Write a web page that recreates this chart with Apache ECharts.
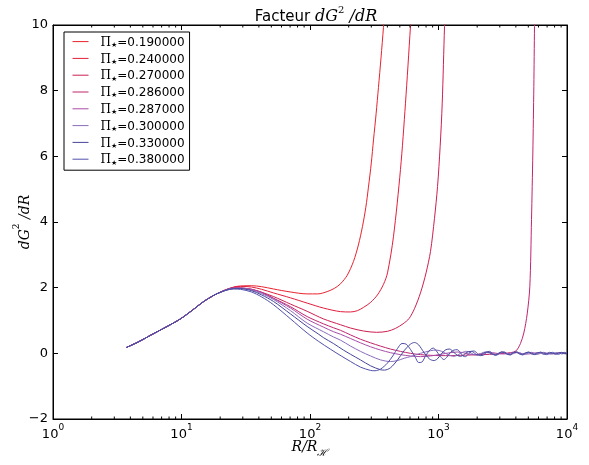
<!DOCTYPE html>
<html><head><meta charset="utf-8">
<script src="https://cdn.jsdelivr.net/npm/echarts@6/dist/echarts.min.js"></script>
<style>html,body{margin:0;padding:0;background:#fff}#c{width:589px;height:465px}</style>
</head><body><div id="c"></div>
<script>
// ---- data ----
const piNames = ['0.190000','0.240000','0.270000','0.286000','0.287000','0.300000','0.330000','0.380000'];
const lineColors = ['#e8222e','#e21e3c','#cc1f50','#c0246e','#a84ca8','#8a6cbc','#45459a','#5050aa'];
const xTickExps = [0,1,2,3,4];
const yTicks = [-2,0,2,4,6,8,10];

// common rising part (all curves overlap here)
const head = [[3.73,0.18],[4.63,0.35],[5.74,0.55],[7.74,0.82],[9.82,1.05],[12.5,1.35],[14.9,1.58],[19.0,1.82]];

const t019 = [[25.5,2.02],[28.8,2.05],[35,2.06],[42,2.03],[52,1.96],[70,1.87],[95,1.81],[115,1.81],[136,1.88],[155,1.98],[173,2.12],[195,2.38],[218,2.8],[238,3.3],[256,3.86],[272,4.45],[285,5.06],[300,5.8],[312,6.5],[327,7.3],[341,8.1],[357,9.0],[373,9.93],[401,11.6]];
const t024 = [[25.5,2.01],[28.8,2.04],[35,2.02],[42,1.95],[52,1.84],[70.5,1.69],[95,1.53],[127,1.38],[173,1.27],[207,1.26],[234,1.3],[261,1.4],[296,1.55],[335,1.78],[373,2.1],[401,2.45],[446,3.55],[506,5.6],[553,7.6],[605,9.95],[640,11.5]];
const t027 = [[25.5,2.0],[28.8,1.99],[35,1.95],[42,1.86],[52,1.73],[70.5,1.5],[95,1.28],[127,1.05],[173,0.87],[207,0.77],[261,0.68],[330,0.64],[400,0.67],[463,0.76],[530,0.9],[590,1.06],[650,1.36],[724,1.84],[800,2.45],[866,3.1],[930,4.1],[983,5.08],[1030,6.3],[1069,7.62],[1114,9.96],[1150,11.5]];
const t0286 = [[25.5,1.99],[28.8,1.99],[35,1.95],[42,1.86],[52,1.68],[70.5,1.42],[95,1.12],[127,0.9],[152,0.78],[173,0.7],[207,0.56],[247,0.43],[296,0.32],[354,0.22],[423,0.13],[506,0.06],[605,0.0],[724,-0.04],[866,-0.06],[1037,-0.07],[1240,-0.07],[1480,-0.06],[1800,-0.05],[2240,-0.04],[2780,-0.02],[3260,0.0],[3630,0.02],[3830,0.04],[4050,0.09],[4345,0.3],[4613,0.62],[4900,1.2],[5138,2.04],[5294,4.07],[5421,6.1],[5520,8.13],[5585,9.96],[5680,12.5]];
const t0287 = [[25.5,1.99],[28.8,1.99],[35,1.95],[42,1.85],[52,1.67],[70.5,1.38],[95,1.04],[127,0.8],[152,0.66],[173,0.58],[207,0.45],[247,0.32],[296,0.2],[354,0.1],[423,0.02],[506,-0.04],[605,-0.08],[724,-0.1],[866,-0.08],[1037,-0.03],[1240,0.02],[1400,0.04],[1560,0.02],[1710,-0.02],[1900,-0.04],[2120,-0.01],[2360,0.02],[2630,0.02],[2930,-0.01],[3260,-0.02],[3630,0.01],[4050,0.02],[4510,-0.01],[5020,-0.02],[5590,0.01],[6220,0.02],[6930,-0.01],[7720,-0.01],[8590,0.01],[9570,0.01],[10000,0]];
const t030 = [[25.5,1.98],[28.8,1.98],[35,1.93],[42,1.82],[52,1.64],[70.5,1.3],[95,0.92],[127,0.66],[152,0.5],[173,0.4],[207,0.22],[247,0.06],[296,-0.08],[354,-0.2],[423,-0.25],[480,-0.22],[540,-0.15],[605,-0.1],[724,0.0],[866,0.08],[960,0.1],[1060,0.06],[1160,-0.02],[1240,-0.07],[1320,-0.09],[1400,-0.06],[1480,0.0],[1560,0.04],[1620,0.06],[1710,0.05],[1810,0.0],[1900,-0.04],[2010,-0.05],[2120,-0.02],[2240,0.03],[2360,0.04],[2490,0.01],[2630,-0.03],[2780,-0.04],[2930,0.0],[3090,0.03],[3260,0.03],[3440,-0.01],[3630,-0.03],[3830,-0.01],[4050,0.03],[4270,0.02],[4510,-0.02],[4760,-0.03],[5020,0.01],[5300,0.03],[5590,0.0],[5900,-0.03],[6220,0.0],[6570,0.03],[6930,0.01],[7310,-0.02],[7720,-0.02],[8140,0.02],[8590,0.02],[9070,-0.02],[9570,0.0],[10000,0.02]];
const t033 = [[25.5,1.97],[28.8,1.97],[35,1.91],[42,1.78],[52,1.58],[70.5,1.2],[95,0.82],[117,0.58],[127,0.48],[152,0.3],[182,0.1],[207,-0.03],[247,-0.2],[296,-0.38],[354,-0.5],[380,-0.51],[423,-0.44],[480,-0.2],[540,0.08],[605,0.28],[650,0.33],[700,0.26],[770,0.03],[850,-0.17],[920,-0.22],[980,-0.17],[1060,0.0],[1140,0.11],[1220,0.13],[1300,0.05],[1400,-0.06],[1480,-0.09],[1560,-0.06],[1620,0.0],[1710,0.05],[1810,0.06],[1900,0.01],[2010,-0.05],[2120,-0.05],[2240,0.0],[2360,0.04],[2490,0.03],[2630,-0.03],[2780,-0.05],[2930,0.0],[3090,0.04],[3260,0.02],[3440,-0.03],[3630,-0.03],[3830,0.02],[4050,0.03],[4270,-0.02],[4510,-0.03],[4760,0.02],[5020,0.03],[5300,-0.02],[5590,-0.03],[5900,0.02],[6220,0.02],[6570,-0.03],[6930,-0.01],[7310,0.03],[7720,0.0],[8140,-0.03],[8590,0.01],[9070,0.03],[9570,-0.01],[10000,-0.02]];
const t038 = [[25.5,1.96],[28.8,1.95],[35,1.87],[42,1.72],[52,1.48],[70.5,1.05],[95,0.62],[117,0.36],[145,0.12],[175,-0.08],[207,-0.25],[247,-0.42],[296,-0.52],[320,-0.53],[354,-0.48],[400,-0.3],[446,-0.05],[480,0.15],[520,0.3],[560,0.28],[605,0.12],[660,-0.12],[700,-0.28],[740,-0.27],[800,-0.05],[866,0.12],[910,0.16],[960,0.08],[1037,-0.1],[1100,-0.19],[1160,-0.12],[1240,0.03],[1320,0.1],[1400,0.11],[1480,0.02],[1560,-0.09],[1620,-0.1],[1710,-0.02],[1810,0.06],[1900,0.07],[2010,-0.01],[2120,-0.07],[2240,-0.05],[2360,0.03],[2490,0.06],[2630,0.0],[2780,-0.06],[2930,-0.03],[3090,0.04],[3260,0.04],[3440,-0.03],[3630,-0.05],[3830,0.02],[4050,0.05],[4270,-0.01],[4510,-0.05],[4760,0.0],[5020,0.04],[5300,0.01],[5590,-0.04],[5900,-0.01],[6220,0.04],[6570,0.0],[6930,-0.04],[7310,0.0],[7720,0.03],[8140,-0.01],[8590,-0.03],[9070,0.01],[9570,0.03],[10000,0.0]];
const tails = [t019,t024,t027,t0286,t0287,t030,t033,t038];

// ---- chart ----
const chart = echarts.init(document.getElementById('c'));
const SANS = 'DejaVu Sans', MATH = 'DejaVu Serif';
const grid = {left:53, right:22, top:25, bottom:46};

const xLabelRich = {
  b:{fontFamily:SANS,fontSize:13,color:'#000',lineHeight:18,verticalAlign:'bottom'},
  e:{fontFamily:SANS,fontSize:9,color:'#000',verticalAlign:'top'}
};
const series = piNames.map((n,i)=>({
  name:n, type:'line', data: head.concat(tails[i]),
  smooth:0.3, symbol:'none', showSymbol:false, clip:true,
  lineStyle:{width:1,color:lineColors[i]}, itemStyle:{color:lineColors[i]},
  emphasis:{disabled:true}
}));

const option = {
  animation:false,
  backgroundColor:'#fff',
  title:{
    text:'{a|Facteur }{i|dG}{s|2}{i| /dR}',
    left:311, top:0, textAlign:'center',
    textStyle:{fontWeight:'normal', rich:{
      a:{fontFamily:SANS,fontSize:15,fontWeight:'normal',color:'#000',lineHeight:20,verticalAlign:'bottom'},
      i:{fontFamily:MATH,fontStyle:'italic',fontWeight:'normal',fontSize:16,color:'#000',lineHeight:20,verticalAlign:'bottom'},
      s:{fontFamily:MATH,fontSize:10,fontWeight:'normal',color:'#000',verticalAlign:'top'}
    }}
  },
  legend:{
    orient:'vertical', left:64, top:32,
    data:piNames,
    itemWidth:16, itemHeight:14, itemGap:4.2,
    padding:[4,5,4,8],
    borderColor:'#000', borderWidth:1, borderRadius:0,
    backgroundColor:'#fff',
    itemStyle:{opacity:0},
    lineStyle:{width:1},
    formatter: n => '{p|\u03A0}{s|\u2605}{t|=' + n + '}',
    textStyle:{rich:{
      p:{fontFamily:'DejaVu Serif',fontSize:12,color:'#000',lineHeight:14,verticalAlign:'bottom',padding:[0,0,0,7]},
      s:{fontFamily:SANS,fontSize:7,color:'#000',verticalAlign:'bottom'},
      t:{fontFamily:SANS,fontSize:12,color:'#000',lineHeight:14,verticalAlign:'bottom'}
    }}
  },
  grid:{...grid, show:true, borderColor:'#000', borderWidth:1, containLabel:false, outerBoundsMode:'none'},
  xAxis:[{
    type:'log', logBase:10, min:1, max:10000,
    name:'{i|R/R}{s|\u210B}', nameLocation:'middle', nameGap:21, nameMoveOverlap:false,
    nameTextStyle:{rich:{
      i:{fontFamily:MATH,fontStyle:'italic',fontSize:14,color:'#000',lineHeight:18,verticalAlign:'top'},
      s:{fontFamily:MATH,fontStyle:'italic',fontSize:10,color:'#000',verticalAlign:'bottom'}
    }},
    axisLine:{show:true,onZero:false,lineStyle:{color:'#000',width:1}},
    axisTick:{show:true,inside:true,length:5,lineStyle:{color:'#000'}},
    axisLabel:{margin:4, formatter:v=>'{b|10}{e|'+Math.round(Math.log10(v))+'}', rich:xLabelRich},
    splitLine:{show:false}, minorTick:{show:false}
  },{
    type:'log', logBase:10, min:1, max:10000, position:'top',
    axisLine:{show:true,onZero:false,lineStyle:{color:'#000'}},
    axisTick:{show:true,inside:true,length:5,lineStyle:{color:'#000'}},
    axisLabel:{show:false}, splitLine:{show:false}
  }],
  yAxis:[{
    type:'value', min:-2, max:10, interval:2,
    name:'{i|dG}{s|2}{i| /dR}', nameLocation:'middle', nameGap:21, nameRotate:90, nameMoveOverlap:false,
    nameTextStyle:{rich:{
      i:{fontFamily:MATH,fontStyle:'italic',fontSize:14,color:'#000',lineHeight:20,verticalAlign:'bottom'},
      s:{fontFamily:MATH,fontSize:9,color:'#000',verticalAlign:'top'}
    }},
    axisLine:{show:true,onZero:false,lineStyle:{color:'#000'}},
    axisTick:{show:true,inside:true,length:5,lineStyle:{color:'#000'}},
    axisLabel:{margin:5, fontFamily:SANS, fontSize:13, color:'#000',
      formatter:v=> v<0 ? '\u2212'+Math.abs(v) : String(v)},
    splitLine:{show:false}
  },{
    type:'value', min:-2, max:10, interval:2, position:'right',
    axisLine:{show:true,onZero:false,lineStyle:{color:'#000'}},
    axisTick:{show:true,inside:true,length:5,lineStyle:{color:'#000'}},
    axisLabel:{show:false}, splitLine:{show:false}
  }],
  series: series
};
chart.setOption(option);

// minor log ticks (2..9 per decade) on bottom and top, positioned through the axis scale
const yBot = chart.convertToPixel({yAxisIndex:0}, -2);
const yTop = chart.convertToPixel({yAxisIndex:0}, 10);
const minorEls = [];
for (let d=0; d<4; d++) {
  for (let k=2; k<=9; k++) {
    const px = chart.convertToPixel({xAxisIndex:0}, k*Math.pow(10,d));
    minorEls.push({type:'line', shape:{x1:px,y1:yBot,x2:px,y2:yBot-2.5}, style:{stroke:'#000',lineWidth:1}, silent:true, z:10});
    minorEls.push({type:'line', shape:{x1:px,y1:yTop,x2:px,y2:yTop+2.5}, style:{stroke:'#000',lineWidth:1}, silent:true, z:10});
  }
}
chart.setOption({graphic:minorEls});
</script>
</body></html>
